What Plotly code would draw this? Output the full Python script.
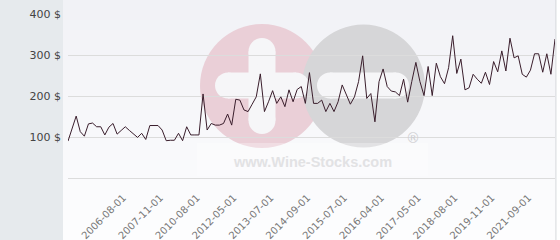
import plotly.graph_objects as go

# ---- data -------------------------------------------------------------
prices = [90, 120, 151, 113, 102, 132, 134, 125, 125, 105, 124, 133, 107, 116, 125, 116, 107, 99, 109, 94,
          128, 128, 128, 117, 91, 92, 92, 109, 91, 125, 105, 105, 105, 205, 117, 133, 129, 129, 133, 156,
          129, 192, 190, 166, 162, 180, 198, 254, 162, 186, 213, 182, 198, 174, 215, 186, 216, 223, 182, 257,
          182, 182, 190, 162, 182, 162, 186, 227, 204, 180, 198, 235, 298, 194, 206, 137, 235, 266, 223, 212,
          210, 201, 241, 185, 235, 282, 235, 201, 272, 201, 280, 247, 230, 269, 347, 255, 290, 215, 220, 253,
          241, 231, 258, 228, 284, 259, 310, 261, 341, 293, 298, 253, 246, 263, 303, 303, 258, 303, 253, 339]
point_index = list(range(len(prices)))

tick_labels = ['2006-08-01', '2007-11-01', '2010-08-01', '2012-05-01', '2013-07-01', '2014-09-01',
               '2015-07-01', '2016-04-01', '2017-05-01', '2018-08-01', '2019-11-01', '2021-09-01']
tick_points = [14, 23, 32, 41, 50, 59, 68, 77, 86, 95, 104, 113]

y_ticks = [100, 200, 300, 400]
y_tick_text = [f'{v} $' for v in y_ticks]

# ---- layout geometry (pixels) ----------------------------------------
W, H = 560, 240
PL, PR, PT, PB = 68, 555, 14, 178


def fx(px):
    return (px - PL) / (PR - PL)


def fy(py):
    return (PB - py) / (PB - PT)


shapes = []

# panel background with a soft vertical gradient
n_strips = 24
c_top = (241, 242, 246)
c_bot = (253, 253, 254)
for i in range(n_strips):
    t = i / (n_strips - 1)
    col = tuple(round(c_top[k] + (c_bot[k] - c_top[k]) * t) for k in range(3))
    y0 = i * H / n_strips
    y1 = (i + 1) * H / n_strips + 0.5
    shapes.append(dict(type='rect', xref='paper', yref='paper', layer='below',
                       x0=fx(63), x1=fx(556), y0=fy(y0), y1=fy(y1),
                       fillcolor='rgb(%d,%d,%d)' % col, line=dict(width=0)))
# right border
shapes.append(dict(type='line', xref='paper', yref='paper', layer='below',
                   x0=fx(556), x1=fx(556), y0=fy(0), y1=fy(H),
                   line=dict(color='#d0d3d6', width=1)))
shapes.append(dict(type='rect', xref='paper', yref='paper', layer='below',
                   x0=fx(556.5), x1=fx(561), y0=fy(0), y1=fy(H),
                   fillcolor='white', line=dict(width=0)))


def circle(cx, cy, r, color):
    shapes.append(dict(type='circle', xref='paper', yref='paper', layer='below',
                       x0=fx(cx - r), x1=fx(cx + r), y0=fy(cy + r), y1=fy(cy - r),
                       fillcolor=color, line=dict(width=0)))


def rect(x0, y0, x1, y1, color):
    shapes.append(dict(type='rect', xref='paper', yref='paper', layer='below',
                       x0=fx(x0), x1=fx(x1), y0=fy(y1), y1=fy(y0),
                       fillcolor=color, line=dict(width=0)))


def hbar(x0, x1, cy, h, color):
    r = h / 2
    rect(x0 + r, cy - r, x1 - r, cy + r, color)
    circle(x0 + r, cy, r, color)
    circle(x1 - r, cy, r, color)


def vbar(cx, y0, y1, w, color):
    r = w / 2
    rect(cx - r, y0 + r, cx + r, y1 - r, color)
    circle(cx, y0 + r, r, color)
    circle(cx, y1 - r, r, color)


# watermark logo
PINK = '#eacfd7'
GREY = '#d6d6d8'
BAR = '#f6f6f8'
circle(262, 86, 62, PINK)
circle(363.5, 86, 61.5, GREY)
hbar(215, 309, 85.5, 26, BAR)
vbar(262, 38, 134, 27, BAR)
hbar(317, 409, 85.5, 26, BAR)
rect(197, 143, 428, 176, 'rgba(255,255,255,0.3)')

annotations = [
    dict(text='www.Wine-Stocks.com', xref='paper', yref='paper', x=fx(312), y=fy(162),
         showarrow=False, xanchor='center', yanchor='middle',
         font=dict(family='Liberation Sans, Arial', size=14.5, color='#e2e2e4', weight='bold')),
    dict(text='®', xref='paper', yref='paper', x=fx(413), y=fy(138),
         showarrow=False, xanchor='center', yanchor='middle',
         font=dict(family='DejaVu Sans', size=14, color='#cfcfd2')),
]

fig = go.Figure()
fig.add_trace(go.Scatter(x=point_index, y=prices, mode='lines',
                         line=dict(color='#3a1e2c', width=1), hoverinfo='skip'))

fig.update_layout(
    width=W, height=H,
    margin=dict(l=PL, r=W - PR, t=PT, b=H - PB, pad=0),
    paper_bgcolor='#e6eaed', plot_bgcolor='rgba(0,0,0,0)',
    showlegend=False, shapes=shapes, annotations=annotations,
    font=dict(family='DejaVu Sans', size=11, color='#444'),
    xaxis=dict(range=[0, len(prices) - 1], tickvals=tick_points, ticktext=tick_labels,
               tickangle=-45, showgrid=False, zeroline=False, showline=True,
               linecolor='#dcdcdc', linewidth=1, ticks='', automargin=False,
               ticklabelstandoff=9, ticklabelshift=-2,
               tickfont=dict(family='DejaVu Sans', size=10, color='#777')),
    yaxis=dict(range=[0, 400], tickvals=y_ticks, ticktext=y_tick_text,
               showgrid=True, gridcolor='#dcdcdc', gridwidth=1, zeroline=False,
               ticks='', ticklabelstandoff=6, automargin=False,
               tickfont=dict(family='DejaVu Sans', size=11, color='#444')),
)

fig.write_html('out.html')
